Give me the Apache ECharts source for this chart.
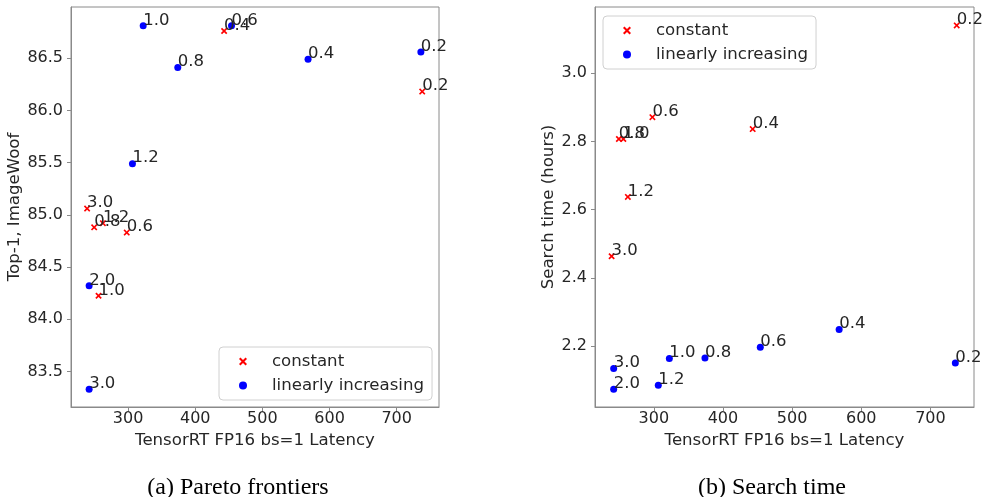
<!DOCTYPE html>
<html>
<head>
<meta charset="utf-8">
<script src="https://cdn.jsdelivr.net/npm/echarts@6/dist/echarts.min.js"></script>
<style>html,body{margin:0;padding:0;background:#fff}#c{width:983px;height:497px}</style>
</head>
<body>
<div id="c"></div>
<script>
// constant ratio schedule
const constLabels  = ['0.2', '0.4', '0.6', '0.8', '1.0', '1.2', '3.0'];
const constLatency = [738, 443, 298, 249.5, 256, 262.5, 239];
const constTop1    = [86.18, 86.76, 84.83, 84.88, 84.225, 84.92, 85.06];
const constSearch  = [3.14, 2.836, 2.871, 2.807, 2.807, 2.637, 2.463];
// linearly increasing schedule
const linLabels  = ['0.2', '0.4', '0.6', '0.8', '1.0', '1.2', '2.0', '3.0'];
const linLatency = [736, 568, 454, 374, 322.5, 306.5, 242, 242];
const linTop1    = [86.56, 86.49, 86.81, 86.41, 86.81, 85.49, 84.32, 83.33];
const linSearch  = [2.150, 2.248, 2.196, 2.165, 2.163, 2.085, 2.073, 2.134];
const xTicks = [300, 400, 500, 600, 700];
const yTicksTop1 = [83.5, 84.0, 84.5, 85.0, 85.5, 86.0, 86.5];
const yTicksSearch = [2.2, 2.4, 2.6, 2.8, 3.0];

const FONT = 'DejaVu Sans';
const TXT = '#262626';
const SPINE = '#8a8a8a';
const X_ICON = 'path://M0,1.8L1.8,0L5,3.2L8.2,0L10,1.8L6.8,5L10,8.2L8.2,10L5,6.8L1.8,10L0,8.2L3.2,5Z';

function pts(xs, ys, labels) { return xs.map((x, i) => [x, ys[i], labels[i]]); }

function xAxis(gi) {
  return {
    gridIndex: gi, type: 'value', min: 215, max: 763,
    name: 'TensorRT FP16 bs=1 Latency', nameLocation: 'middle', nameGap: 23,
    nameTextStyle: { fontFamily: FONT, fontSize: 16.6, color: TXT },
    axisLine: { show: true, lineStyle: { color: SPINE, width: 1 } },
    axisTick: { show: true, length: 4, customValues: xTicks, lineStyle: { color: SPINE } },
    axisLabel: { customValues: xTicks, fontFamily: FONT, fontSize: 16, color: TXT, margin: 4 },
    splitLine: { show: false }
  };
}
function yAxis(gi, min, max, ticks, name, gap, dec) {
  return {
    gridIndex: gi, type: 'value', min: min, max: max,
    name: name, nameLocation: 'middle', nameGap: gap,
    nameTextStyle: { fontFamily: FONT, fontSize: 16.6, color: TXT },
    axisLine: { show: true, lineStyle: { color: SPINE, width: 1 } },
    axisTick: { show: true, length: 4, customValues: ticks, lineStyle: { color: SPINE } },
    axisLabel: { customValues: ticks, fontFamily: FONT, fontSize: 16, color: TXT, margin: 8,
      formatter: v => v.toFixed(dec) },
    splitLine: { show: false }
  };
}
const lbl = {
  show: true, position: ['50%', '50%'], align: 'left', verticalAlign: 'bottom',
  offset: [0, 3], formatter: p => p.value[2],
  fontFamily: FONT, fontSize: 16.5, color: TXT
};
function ser(name, gi, data, color, symbol, size) {
  return {
    name: name, type: 'scatter', xAxisIndex: gi, yAxisIndex: gi, data: data,
    symbol: symbol, symbolSize: size, itemStyle: { color: color, opacity: 1 },
    label: lbl, emphasis: { disabled: true }, z: 3
  };
}
function legend(left, top) {
  return {
    orient: 'vertical', left: left, top: top,
    data: [{ name: 'constant', icon: X_ICON }, { name: 'linearly increasing', icon: 'circle' }],
    itemWidth: 8, itemHeight: 8, itemGap: 7,
    padding: [6, 8, 6, 20],
    borderColor: '#d0d0d0', borderWidth: 1, borderRadius: 4, backgroundColor: '#fff',
    textStyle: { fontFamily: FONT, fontSize: 16.6, color: TXT, padding: [0, 0, 0, 20] },
    selectedMode: false
  };
}

const chart = echarts.init(document.getElementById('c'), null, { renderer: 'canvas' });
chart.setOption({
  animation: false,
  backgroundColor: '#fff',
  grid: [
    { left: 71, top: 7, width: 368, height: 400, show: true, borderColor: SPINE, borderWidth: 1, backgroundColor: 'transparent' },
    { left: 595, top: 7, width: 379, height: 400, show: true, borderColor: SPINE, borderWidth: 1, backgroundColor: 'transparent' }
  ],
  xAxis: [xAxis(0), xAxis(1)],
  yAxis: [
    yAxis(0, 83.16, 86.99, yTicksTop1, 'Top-1, ImageWoof', 44, 1),
    yAxis(1, 2.021, 3.194, yTicksSearch, 'Search time (hours)', 33, 1)
  ],
  legend: [legend(219, 347), legend(603, 16)],
  title: [
    { text: '(a) Pareto frontiers', left: 233, top: 471, textAlign: 'center',
      textStyle: { fontFamily: 'Liberation Serif', fontSize: 24, fontWeight: 'normal', color: '#000' } },
    { text: '(b) Search time', left: 767, top: 471, textAlign: 'center',
      textStyle: { fontFamily: 'Liberation Serif', fontSize: 24, fontWeight: 'normal', color: '#000' } }
  ],
  series: [
    ser('constant', 0, pts(constLatency, constTop1, constLabels), '#ff0000', X_ICON, 6.5),
    ser('linearly increasing', 0, pts(linLatency, linTop1, linLabels), '#0000ff', 'circle', 7),
    ser('constant', 1, pts(constLatency, constSearch, constLabels), '#ff0000', X_ICON, 6.5),
    ser('linearly increasing', 1, pts(linLatency, linSearch, linLabels), '#0000ff', 'circle', 7)
  ]
});
</script>
</body>
</html>
